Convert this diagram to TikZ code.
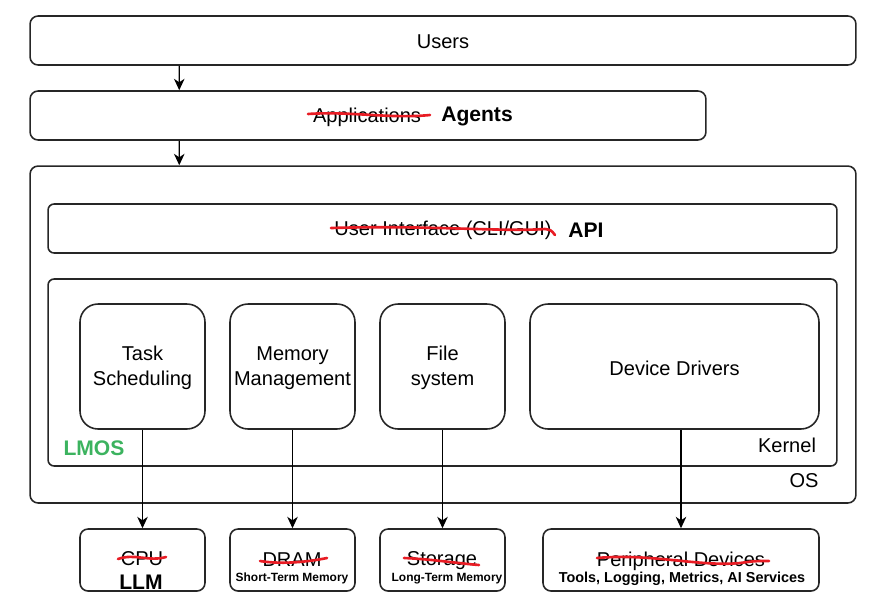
\documentclass[tikz,border=0pt]{standalone}
\usepackage{fontspec}
\setmainfont{Liberation Sans}
\usetikzlibrary{arrows.meta}
\definecolor{strikered}{RGB}{232,28,36}
\definecolor{lmosgreen}{RGB}{60,179,95}
\begin{document}
\begin{tikzpicture}[x=0.02cm,y=-0.02cm,
    box/.style={draw=black!85,line width=0.9pt,rounded corners=0.16cm,inner sep=0pt},
    unit/.style={box,rounded corners=0.36cm,minimum width=2.5cm,minimum height=2.5cm,align=center},
    hw/.style={box,minimum width=2.5cm,minimum height=1.24cm},
    txt/.style={inner sep=0pt,yshift=-1.1pt,font=\fontsize{11.4}{14.2}\selectfont,align=center},
    bold/.style={inner sep=0pt,yshift=-1.1pt,font=\fontsize{12}{14}\selectfont\bfseries},
    small/.style={inner sep=0pt,yshift=-0.6pt,font=\fontsize{6.8}{8}\selectfont\bfseries},
    strike/.style={draw=strikered,line width=1.5pt,line cap=round},
    arr/.style={-{Stealth[length=6.5pt,width=6pt,inset=2pt]},line width=0.7pt}]
  \useasboundingbox (0,0) rectangle (888,606);
  % layers
  \node[box,minimum width=16.52cm,minimum height=0.98cm] (users) at (443,40.5) {};
  \node[box,minimum width=13.52cm,minimum height=0.98cm] (agents) at (368,115.5) {};
  \node[box,minimum width=16.52cm,minimum height=6.74cm] (os) at (443,334.5) {};
  \node[box,rounded corners=0.12cm,minimum width=15.78cm,minimum height=0.98cm] (api) at (442.5,228.5) {};
  \node[box,rounded corners=0.12cm,minimum width=15.78cm,minimum height=3.74cm] (kernel) at (442.5,372.5) {};
  % kernel units
  \node[unit] (task) at (142.5,366.5) {};
  \node[unit] (mem) at (292.5,366.5) {};
  \node[unit] (file) at (442.5,366.5) {};
  \node[unit,minimum width=5.78cm] (drv) at (674.5,366.5) {};
  % hardware
  \node[hw] (cpu) at (142.5,560) {};
  \node[hw] (dram) at (292.5,560) {};
  \node[hw] (stor) at (442.5,560) {};
  \node[hw,minimum width=5.52cm] (peri) at (681,560) {};
  % texts
  \node[txt] (userslbl) at (443,40) {Users};
  \node[txt] (appl) at (367,115) {Applications};
  \node[bold] (agentslbl) at (477,115) {Agents};
  \node[txt] (ui) at (443,228) {User Interface (CLI/GUI)};
  \node[bold] (apilbl) at (586,228) {API};
  \node[txt] (tasklbl) at (142.5,366) {Task\\Scheduling};
  \node[txt] (memlbl) at (292.5,366) {Memory\\Management};
  \node[txt] (filelbl) at (442.5,366) {File\\system};
  \node[txt] (drvlbl) at (674.5,366) {Device Drivers};
  \node[txt] (kernellbl) at (787,443) {Kernel};
  \node[txt] (oslbl) at (804,479) {OS};
  \node[bold,text=lmosgreen] (lmoslbl) at (94,446) {LMOS};
  \node[txt] (cpulbl) at (142,557) {CPU};
  \node[bold] (llmlbl) at (141,580) {LLM};
  \node[txt] (dramlbl) at (292,558) {DRAM};
  \node[small] (stmlbl) at (292,577) {Short-Term Memory};
  \node[txt] (storlbl) at (442,559) {Storage};
  \node[small] (ltmlbl) at (447,578) {Long-Term Memory};
  \node[txt] (perilbl) at (681,559) {Peripheral Devices};
  \node[small,font=\fontsize{8.2}{10}\selectfont\bfseries] (toollbl) at (682,578) {Tools, Logging, Metrics, AI Services};
  % strike-outs
  \draw[strike] (308,114) .. controls (350,111) and (390,119) .. (430,115);
  \draw[strike] (331,228) .. controls (430,225) and (500,232) .. (545,229) .. controls (551,230) .. (555,235);
  \draw[strike] (118,559) .. controls (135,553) and (148,562) .. (166,557);
  \draw[strike] (260,561) .. controls (285,565) and (312,561) .. (327,558);
  \draw[strike] (404,558) .. controls (430,559) and (455,563) .. (479,565);
  \draw[strike] (597,558) .. controls (650,553) and (700,567) .. (740,563) .. controls (755,561) .. (769,561);
  % connectors
  \begin{scope}[arr]
    \draw ([xshift=3cm]users.south west) -- ([xshift=3cm]agents.north west);
    \draw ([xshift=3cm]agents.south west) -- ([xshift=3cm]os.north west);
    \draw (task) -- (cpu);
    \draw (mem) -- (dram);
    \draw (file) -- (stor);
    \draw (peri.north |- drv.south) -- (peri.north);
  \end{scope}
\end{tikzpicture}
\end{document}
